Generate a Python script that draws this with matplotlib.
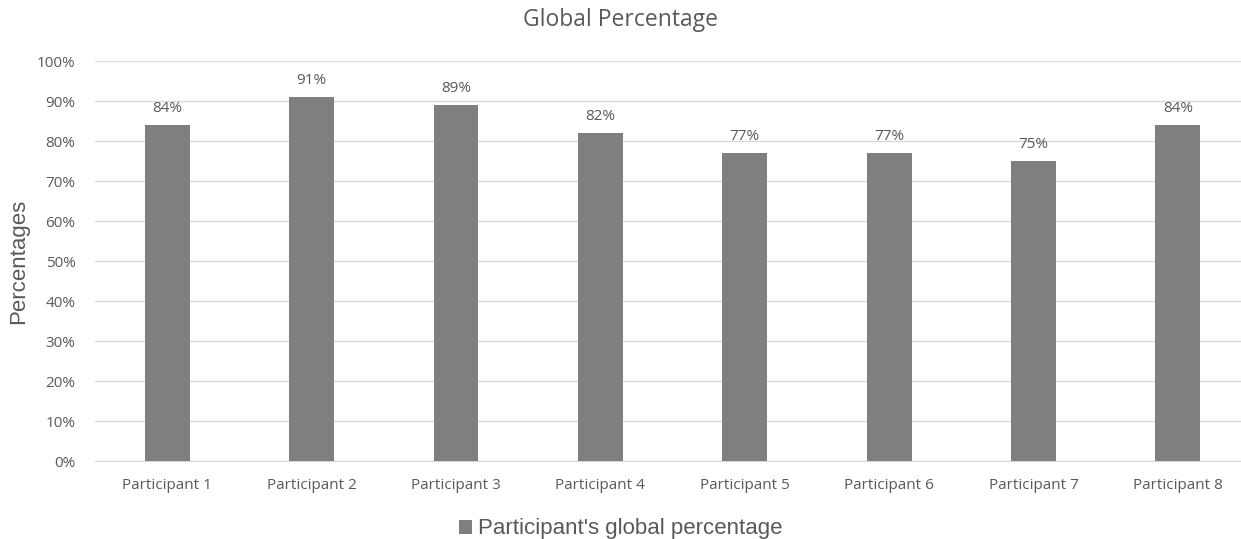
import matplotlib.pyplot as plt
import numpy as np
from matplotlib.ticker import PercentFormatter

participants = [f"Participant {i}" for i in range(1, 9)]
global_pct = [84, 91, 89, 82, 77, 77, 75, 84]
y_ticks = list(range(0, 101, 10))

text_color = "#595959"
bar_color = "#7f7f7f"
grid_color = "#d9d9d9"

fig = plt.figure(figsize=(12.41, 5.39), dpi=100)
# plot area runs slightly past the right edge, as in the source image
ax = fig.add_axes([0.0766, 0.1447, 0.9307, 0.7421])

x = np.arange(len(participants))
bars = ax.bar(x, global_pct, width=0.31, color=bar_color, zorder=3,
              label="Participant's global percentage")

for xi, v in zip(x, global_pct):
    ax.text(xi, v + 2.2, f"{v}%", ha="center", va="bottom",
            fontsize=11, color=text_color, family="Open Sans")

ax.set_xlim(-0.5, len(participants) - 0.5)
ax.set_ylim(0, 100)
ax.set_yticks(y_ticks)
ax.yaxis.set_major_formatter(PercentFormatter(decimals=0))
ax.set_xticks(x)
ax.set_xticklabels(participants)
ax.grid(axis="y", color=grid_color, linewidth=1, zorder=0)
for s in ["top", "right", "left"]:
    ax.spines[s].set_visible(False)
ax.spines["bottom"].set_color(grid_color)
ax.tick_params(axis="both", length=0, colors=text_color, labelsize=11)
ax.tick_params(axis="x", pad=12)
ax.tick_params(axis="y", pad=14)
for lbl in ax.get_xticklabels() + ax.get_yticklabels():
    lbl.set_family("Open Sans")

ax.set_ylabel("Percentages", fontsize=16, color=text_color,
              family="Liberation Sans", labelpad=6)
fig.suptitle("Global Percentage", y=0.985, fontsize=16.5, color=text_color,
             family="Open Sans")

leg = fig.legend(handles=[bars], loc="lower center", bbox_to_anchor=(0.5, -0.038),
                 frameon=False, handlelength=0.6, handleheight=0.6,
                 handletextpad=0.25, prop={"family": "Liberation Sans", "size": 16})
for t in leg.get_texts():
    t.set_color(text_color)

fig.savefig("out.png", dpi=100)
